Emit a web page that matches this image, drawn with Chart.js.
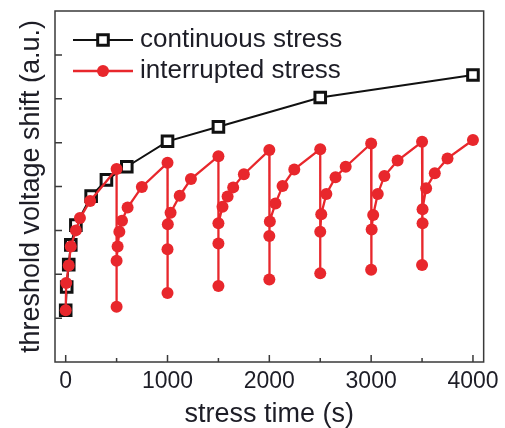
<!DOCTYPE html>
<html>
<head>
<meta charset="utf-8">
<script src="https://cdn.jsdelivr.net/npm/chart.js@4.4.0/dist/chart.umd.min.js"></script>
<style>
  html, body { margin: 0; padding: 0; background: #fff; }
  #wrap { width: 505px; height: 428px; }
</style>
</head>
<body>
<div id="wrap"><canvas id="myChart" width="505" height="428"></canvas></div>
<script>
// continuous stress (black squares)
const contTime  = [0, 10, 30, 50, 100, 250, 400, 600, 1000, 1500, 2500, 4000];
const contShift = [1.18, 1.71, 2.22, 2.67, 3.12, 3.78, 4.15, 4.45, 5.03, 5.36, 6.03, 6.54];

// interrupted stress (red circles), stress / relax every 500 s
const intTime = [
  0, 5, 30, 50, 100, 140, 240, 500,
  500, 500, 510, 527, 553, 608, 748, 1000,
  1000, 1000, 1003, 1030, 1120, 1230, 1500,
  1500, 1500, 1500, 1540, 1590, 1645, 1750, 2000,
  2000, 2000, 2005, 2060, 2130, 2245, 2500,
  2500, 2500, 2510, 2560, 2650, 2750, 3000,
  3000, 3005, 3020, 3065, 3130, 3260, 3500,
  3500, 3505, 3505, 3540, 3625, 3750, 4000
];
const intShift = [
  1.18, 1.80, 2.20, 2.63, 3.00, 3.28, 3.67, 4.40,
  1.26, 2.31, 2.63, 2.97, 3.22, 3.52, 3.99, 4.54,
  1.57, 2.57, 3.14, 3.40, 3.79, 4.17, 4.69,
  1.73, 2.70, 3.16, 3.54, 3.77, 3.98, 4.28, 4.83,
  1.88, 2.87, 3.20, 3.61, 4.01, 4.39, 4.85,
  2.02, 2.97, 3.37, 3.83, 4.21, 4.45, 4.98,
  2.10, 3.02, 3.35, 3.83, 4.24, 4.59, 5.02,
  2.21, 3.16, 3.48, 3.96, 4.30, 4.64, 5.06
];

const xTickValues = [0, 500, 1000, 1500, 2000, 2500, 3000, 3500, 4000];
const yTickValues = [1, 2, 3, 4, 5, 6, 7];
const seriesNames = ['continuous stress', 'interrupted stress'];
const xTitle = 'stress time (s)';
const yTitle = 'threshold voltage shift (a.u.)';

const RED = '#e8272c';
const BLACK = '#111111';
const INK = '#1d1d26';
const FONT = "'Liberation Sans', Arial, sans-serif";

Chart.defaults.font.family = FONT;
Chart.defaults.color = INK;

function pairs(xs, ys) {
  return xs.map(function (x, i) { return { x: x, y: ys[i] }; });
}

// caja y marcas hacia dentro
const framePlugin = {
  id: 'frame',
  beforeDatasetsDraw(chart) {
    const ctx = chart.ctx;
    const a = chart.chartArea;
    const xs = chart.scales.x;
    const ys = chart.scales.y;
    ctx.save();
    ctx.strokeStyle = '#3a3a3a';
    ctx.lineWidth = 1.5;
    ctx.strokeRect(a.left, a.top, a.right - a.left, a.bottom - a.top);
    ctx.beginPath();
    xs.ticks.forEach(function (t) {
      const px = xs.getPixelForValue(t.value);
      const len = t.value % 1000 === 0 ? 7 : 4;
      ctx.moveTo(px, a.bottom);
      ctx.lineTo(px, a.bottom - len);
    });
    ys.ticks.forEach(function (t) {
      const py = ys.getPixelForValue(t.value);
      ctx.moveTo(a.left, py);
      ctx.lineTo(a.left + 7, py);
    });
    ctx.stroke();
    ctx.restore();
  }
};

// leyenda dentro del grafico
const legendPlugin = {
  id: 'insideLegend',
  afterDatasetsDraw(chart) {
    const ctx = chart.ctx;
    const items = chart.data.datasets;
    const rows = [40, 71];
    ctx.save();
    items.forEach(function (ds, i) {
      const y = rows[i];
      ctx.strokeStyle = ds.borderColor;
      ctx.lineWidth = ds.borderWidth;
      ctx.beginPath();
      ctx.moveTo(73, y);
      ctx.lineTo(133, y);
      ctx.stroke();
      ctx.fillStyle = ds.pointBackgroundColor;
      ctx.strokeStyle = ds.pointBorderColor;
      ctx.lineWidth = ds.pointBorderWidth;
      Chart.helpers.drawPoint(ctx, {
        pointStyle: ds.pointStyle,
        radius: ds.pointRadius,
        borderWidth: ds.pointBorderWidth,
        rotation: 0
      }, 103, y);
      ctx.fillStyle = INK;
      ctx.font = '26px ' + FONT;
      ctx.textBaseline = 'middle';
      ctx.textAlign = 'left';
      ctx.fillText(ds.label, 140, y);
    });
    ctx.restore();
  }
};

const ctx = document.getElementById('myChart');

new Chart(ctx, {
  type: 'line',
  data: {
    datasets: [{
      label: seriesNames[0],
      data: pairs(contTime, contShift),
      borderColor: BLACK,
      borderWidth: 2,
      pointStyle: 'rect',
      pointRadius: 7.5,
      pointBorderWidth: 3,
      pointBackgroundColor: '#ffffff',
      pointBorderColor: BLACK,
      order: 1
    }, {
      label: seriesNames[1],
      data: pairs(intTime, intShift),
      borderColor: RED,
      borderWidth: 2.3,
      pointStyle: 'circle',
      pointRadius: 6,
      pointBorderWidth: 0,
      pointBackgroundColor: RED,
      pointBorderColor: RED,
      order: 0
    }]
  },
  options: {
    responsive: false,
    animation: false,
    devicePixelRatio: 1,
    layout: { padding: { top: 11, right: 18, left: 0, bottom: 0 } },
    plugins: {
      legend: { display: false },
      tooltip: { enabled: false }
    },
    scales: {
      x: {
        type: 'linear',
        min: -105,
        max: 4105,
        afterBuildTicks: function (s) { s.ticks = xTickValues.map(function (v) { return { value: v }; }); },
        afterFit: function (s) { s.height = 66; },
        grid: { display: false, drawTicks: false },
        border: { display: false },
        ticks: {
          autoSkip: false,
          maxRotation: 0,
          padding: 6,
          color: INK,
          font: { size: 23 },
          callback: function (v) { return v % 1000 === 0 ? String(v) : ''; }
        },
        title: {
          display: true,
          text: xTitle,
          color: INK,
          font: { size: 27, lineHeight: 1 },
          padding: { top: 0, bottom: 0 }
        }
      },
      y: {
        min: 0,
        max: 8,
        afterBuildTicks: function (s) { s.ticks = yTickValues.map(function (v) { return { value: v }; }); },
        afterFit: function (s) { s.width = 55; },
        grid: { display: false, drawTicks: false },
        border: { display: false },
        ticks: { display: false },
        title: {
          display: true,
          text: yTitle,
          color: INK,
          font: { size: 27, lineHeight: 1.2 },
          padding: { top: 15, bottom: 0 }
        }
      }
    }
  },
  plugins: [framePlugin, legendPlugin]
});
</script>
</body>
</html>
